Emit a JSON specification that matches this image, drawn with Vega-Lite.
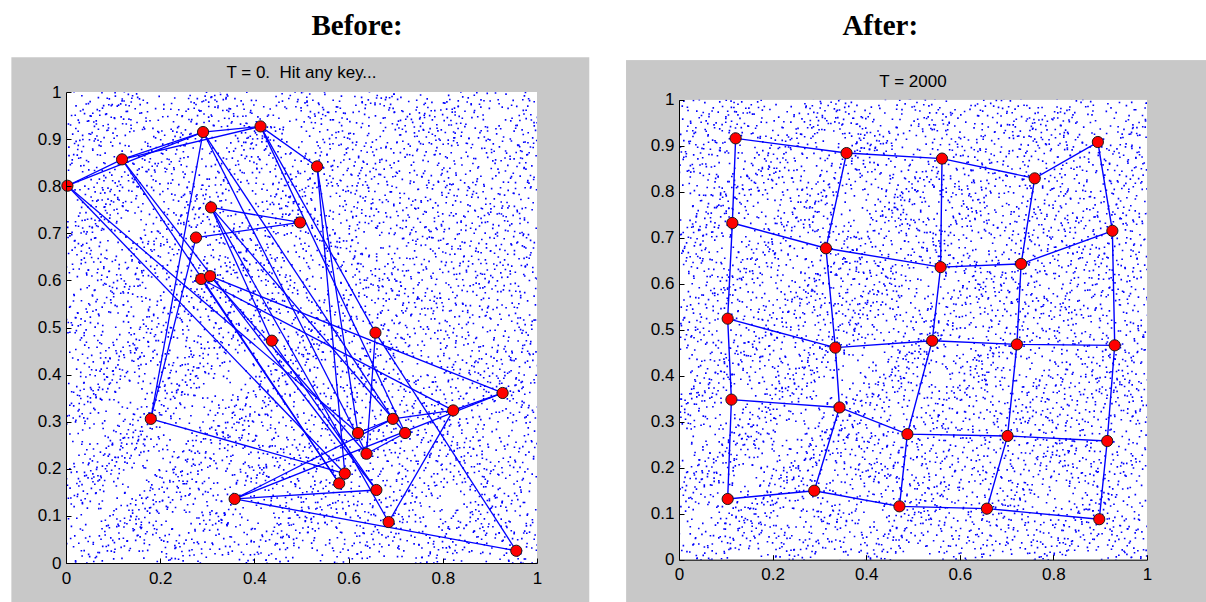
{
"$schema":"https://vega.github.io/schema/vega-lite/v6.json",
"background":"#ffffff",
"padding":{"left":11,"top":0,"right":0,"bottom":0},
"spacing":36,
"bounds":"full",
"datasets":{
"beforeNodes":[
{"id":"A","x":0.003,"y":0.801},{"id":"B","x":0.119,"y":0.857},{"id":"C","x":0.291,"y":0.915},{"id":"D","x":0.413,"y":0.927},{"id":"E","x":0.308,"y":0.755},
{"id":"F","x":0.497,"y":0.723},{"id":"G","x":0.276,"y":0.691},{"id":"H","x":0.287,"y":0.603},{"id":"I","x":0.306,"y":0.609},{"id":"J","x":0.533,"y":0.842},
{"id":"K","x":0.657,"y":0.489},{"id":"L","x":0.437,"y":0.472},{"id":"M","x":0.180,"y":0.306},{"id":"N","x":0.358,"y":0.136},{"id":"O","x":0.927,"y":0.361},
{"id":"P","x":0.822,"y":0.324},{"id":"Q","x":0.694,"y":0.306},{"id":"R","x":0.720,"y":0.276},{"id":"S","x":0.620,"y":0.276},{"id":"T","x":0.638,"y":0.232},
{"id":"U","x":0.592,"y":0.190},{"id":"V","x":0.580,"y":0.169},{"id":"W","x":0.659,"y":0.155},{"id":"X","x":0.685,"y":0.087},{"id":"Y","x":0.956,"y":0.026}],
"beforeEdges":[
{"a":"A","b":"B"},{"a":"A","b":"C"},{"a":"B","b":"C"},{"a":"B","b":"D"},{"a":"C","b":"D"},{"a":"D","b":"J"},{"a":"E","b":"F"},{"a":"G","b":"F"},
{"a":"C","b":"M"},{"a":"G","b":"M"},{"a":"A","b":"S"},{"a":"A","b":"U"},{"a":"B","b":"V"},{"a":"B","b":"W"},{"a":"C","b":"T"},{"a":"C","b":"Q"},
{"a":"D","b":"K"},{"a":"D","b":"R"},{"a":"J","b":"U"},{"a":"E","b":"R"},{"a":"E","b":"X"},{"a":"I","b":"O"},{"a":"H","b":"P"},{"a":"K","b":"Y"},
{"a":"K","b":"T"},{"a":"N","b":"W"},{"a":"N","b":"Q"},{"a":"N","b":"O"},{"a":"M","b":"U"},{"a":"P","b":"O"},{"a":"Q","b":"P"},{"a":"S","b":"Q"},
{"a":"X","b":"P"},{"a":"R","b":"T"},{"a":"L","b":"E"},{"a":"L","b":"W"},{"a":"U","b":"V"},{"a":"H","b":"V"},{"a":"I","b":"T"},{"a":"J","b":"S"},{"a":"N","b":"Y"}],
"afterNodes":[
{"r":0,"c":0,"x":0.121,"y":0.916},{"r":0,"c":1,"x":0.358,"y":0.884},{"r":0,"c":2,"x":0.562,"y":0.872},{"r":0,"c":3,"x":0.760,"y":0.829},{"r":0,"c":4,"x":0.895,"y":0.908},
{"r":1,"c":0,"x":0.114,"y":0.732},{"r":1,"c":1,"x":0.314,"y":0.677},{"r":1,"c":2,"x":0.559,"y":0.636},{"r":1,"c":3,"x":0.731,"y":0.643},{"r":1,"c":4,"x":0.926,"y":0.715},
{"r":2,"c":0,"x":0.104,"y":0.524},{"r":2,"c":1,"x":0.334,"y":0.461},{"r":2,"c":2,"x":0.541,"y":0.476},{"r":2,"c":3,"x":0.722,"y":0.468},{"r":2,"c":4,"x":0.931,"y":0.466},
{"r":3,"c":0,"x":0.112,"y":0.348},{"r":3,"c":1,"x":0.343,"y":0.331},{"r":3,"c":2,"x":0.488,"y":0.273},{"r":3,"c":3,"x":0.702,"y":0.269},{"r":3,"c":4,"x":0.915,"y":0.258},
{"r":4,"c":0,"x":0.104,"y":0.132},{"r":4,"c":1,"x":0.289,"y":0.150},{"r":4,"c":2,"x":0.471,"y":0.116},{"r":4,"c":3,"x":0.658,"y":0.111},{"r":4,"c":4,"x":0.898,"y":0.088}],
"dotsA":[
{"x":0.021,"y":0.012},{"x":0.082,"y":-0.018},{"x":0.204,"y":0.031},{"x":0.251,"y":0.002},{"x":0.388,"y":-0.022},{"x":0.437,"y":0.027},{"x":0.571,"y":0.009},{"x":0.619,"y":-0.031},{"x":0.744,"y":0.018},{"x":0.793,"y":-0.006},{"x":0.931,"y":0.024},{"x":0.978,"y":-0.014},
{"x":-0.012,"y":0.118},{"x":0.113,"y":0.071},{"x":0.168,"y":0.104},{"x":0.301,"y":0.129},{"x":0.349,"y":0.063},{"x":0.479,"y":0.088},{"x":0.531,"y":0.122},{"x":0.662,"y":0.078},{"x":0.707,"y":0.111},{"x":0.838,"y":0.066},{"x":0.889,"y":0.101},{"x":1.017,"y":0.084},
{"x":0.028,"y":0.171},{"x":0.078,"y":0.213},{"x":0.209,"y":0.158},{"x":0.259,"y":0.196},{"x":0.381,"y":0.221},{"x":0.431,"y":0.162},{"x":0.563,"y":0.204},{"x":0.611,"y":0.149},{"x":0.752,"y":0.188},{"x":0.799,"y":0.217},{"x":0.922,"y":0.166},{"x":0.981,"y":0.207},
{"x":-0.009,"y":0.298},{"x":0.121,"y":0.252},{"x":0.163,"y":0.287},{"x":0.297,"y":0.241},{"x":0.344,"y":0.306},{"x":0.472,"y":0.269},{"x":0.523,"y":0.244},{"x":0.656,"y":0.301},{"x":0.701,"y":0.262},{"x":0.841,"y":0.283},{"x":0.884,"y":0.238},{"x":1.012,"y":0.291},
{"x":0.017,"y":0.341},{"x":0.069,"y":0.387},{"x":0.199,"y":0.352},{"x":0.248,"y":0.396},{"x":0.392,"y":0.339},{"x":0.441,"y":0.378},{"x":0.568,"y":0.331},{"x":0.614,"y":0.399},{"x":0.748,"y":0.357},{"x":0.791,"y":0.344},{"x":0.926,"y":0.389},{"x":0.973,"y":0.348},
{"x":0.031,"y":0.481},{"x":0.111,"y":0.428},{"x":0.176,"y":0.467},{"x":0.292,"y":0.442},{"x":0.356,"y":0.491},{"x":0.483,"y":0.431},{"x":0.527,"y":0.472},{"x":0.651,"y":0.426},{"x":0.712,"y":0.486},{"x":0.833,"y":0.449},{"x":0.897,"y":0.421},{"x":1.008,"y":0.476},
{"x":-0.004,"y":0.529},{"x":0.087,"y":0.571},{"x":0.213,"y":0.518},{"x":0.262,"y":0.562},{"x":0.377,"y":0.536},{"x":0.429,"y":0.579},{"x":0.559,"y":0.513},{"x":0.627,"y":0.551},{"x":0.738,"y":0.581},{"x":0.806,"y":0.522},{"x":0.917,"y":0.566},{"x":0.985,"y":0.534},
{"x":0.024,"y":0.662},{"x":0.118,"y":0.611},{"x":0.171,"y":0.648},{"x":0.304,"y":0.603},{"x":0.339,"y":0.657},{"x":0.468,"y":0.619},{"x":0.534,"y":0.671},{"x":0.648,"y":0.628},{"x":0.703,"y":0.606},{"x":0.846,"y":0.659},{"x":0.881,"y":0.622},{"x":1.014,"y":0.651},
{"x":0.009,"y":0.702},{"x":0.073,"y":0.748},{"x":0.197,"y":0.711},{"x":0.283,"y":0.759},{"x":0.394,"y":0.693},{"x":0.446,"y":0.739},{"x":0.572,"y":0.708},{"x":0.619,"y":0.761},{"x":0.753,"y":0.731},{"x":0.802,"y":0.696},{"x":0.929,"y":0.744},{"x":0.969,"y":0.709},
{"x":0.036,"y":0.838},{"x":0.104,"y":0.789},{"x":0.182,"y":0.829},{"x":0.288,"y":0.801},{"x":0.361,"y":0.852},{"x":0.477,"y":0.786},{"x":0.519,"y":0.824},{"x":0.659,"y":0.843},{"x":0.719,"y":0.792},{"x":0.829,"y":0.831},{"x":0.892,"y":0.781},{"x":1.003,"y":0.842},
{"x":-0.011,"y":0.889},{"x":0.091,"y":0.931},{"x":0.206,"y":0.876},{"x":0.266,"y":0.919},{"x":0.383,"y":0.941},{"x":0.422,"y":0.884},{"x":0.556,"y":0.927},{"x":0.622,"y":0.871},{"x":0.741,"y":0.913},{"x":0.788,"y":0.938},{"x":0.934,"y":0.882},{"x":0.982,"y":0.921},
{"x":0.022,"y":0.978},{"x":0.115,"y":1.019},{"x":0.161,"y":0.963},{"x":0.299,"y":1.007},{"x":0.347,"y":0.972},{"x":0.469,"y":1.024},{"x":0.538,"y":0.981},{"x":0.652,"y":1.011},{"x":0.716,"y":0.966},{"x":0.843,"y":0.997},{"x":0.877,"y":1.021},{"x":1.011,"y":0.974}],
"dotsB":[
{"x":0.062,"y":0.038},{"x":0.127,"y":0.071},{"x":0.246,"y":0.029},{"x":0.309,"y":0.064},{"x":0.428,"y":0.041},{"x":0.487,"y":0.077},{"x":0.603,"y":0.022},{"x":0.668,"y":0.059},{"x":0.784,"y":0.035},{"x":0.849,"y":0.068},{"x":0.963,"y":0.044},
{"x":0.038,"y":0.161},{"x":0.152,"y":0.118},{"x":0.219,"y":0.153},{"x":0.334,"y":0.126},{"x":0.397,"y":0.167},{"x":0.514,"y":0.131},{"x":0.578,"y":0.109},{"x":0.693,"y":0.157},{"x":0.756,"y":0.122},{"x":0.873,"y":0.148},{"x":0.938,"y":0.113},
{"x":0.071,"y":0.209},{"x":0.133,"y":0.247},{"x":0.241,"y":0.218},{"x":0.311,"y":0.256},{"x":0.423,"y":0.227},{"x":0.489,"y":0.203},{"x":0.607,"y":0.241},{"x":0.666,"y":0.219},{"x":0.789,"y":0.252},{"x":0.851,"y":0.207},{"x":0.967,"y":0.238},
{"x":0.043,"y":0.331},{"x":0.157,"y":0.297},{"x":0.226,"y":0.342},{"x":0.337,"y":0.311},{"x":0.402,"y":0.294},{"x":0.519,"y":0.338},{"x":0.583,"y":0.306},{"x":0.697,"y":0.347},{"x":0.762,"y":0.301},{"x":0.878,"y":0.329},{"x":0.941,"y":0.343},
{"x":0.066,"y":0.392},{"x":0.128,"y":0.431},{"x":0.238,"y":0.401},{"x":0.306,"y":0.437},{"x":0.426,"y":0.388},{"x":0.492,"y":0.423},{"x":0.611,"y":0.397},{"x":0.672,"y":0.436},{"x":0.781,"y":0.419},{"x":0.847,"y":0.384},{"x":0.959,"y":0.428},
{"x":0.036,"y":0.513},{"x":0.149,"y":0.481},{"x":0.221,"y":0.524},{"x":0.329,"y":0.492},{"x":0.414,"y":0.518},{"x":0.507,"y":0.477},{"x":0.576,"y":0.527},{"x":0.688,"y":0.489},{"x":0.767,"y":0.521},{"x":0.869,"y":0.503},{"x":0.944,"y":0.474},
{"x":0.059,"y":0.604},{"x":0.136,"y":0.568},{"x":0.249,"y":0.611},{"x":0.313,"y":0.577},{"x":0.399,"y":0.602},{"x":0.496,"y":0.566},{"x":0.598,"y":0.614},{"x":0.677,"y":0.581},{"x":0.791,"y":0.597},{"x":0.856,"y":0.571},{"x":0.958,"y":0.612},
{"x":0.047,"y":0.693},{"x":0.154,"y":0.661},{"x":0.229,"y":0.701},{"x":0.341,"y":0.672},{"x":0.418,"y":0.657},{"x":0.513,"y":0.697},{"x":0.587,"y":0.664},{"x":0.701,"y":0.692},{"x":0.758,"y":0.669},{"x":0.874,"y":0.703},{"x":0.936,"y":0.658},
{"x":0.068,"y":0.751},{"x":0.124,"y":0.792},{"x":0.243,"y":0.763},{"x":0.318,"y":0.749},{"x":0.431,"y":0.786},{"x":0.487,"y":0.758},{"x":0.609,"y":0.781},{"x":0.663,"y":0.746},{"x":0.782,"y":0.789},{"x":0.842,"y":0.761},{"x":0.966,"y":0.777},
{"x":0.041,"y":0.879},{"x":0.146,"y":0.843},{"x":0.217,"y":0.871},{"x":0.332,"y":0.838},{"x":0.408,"y":0.882},{"x":0.521,"y":0.851},{"x":0.581,"y":0.836},{"x":0.694,"y":0.874},{"x":0.773,"y":0.847},{"x":0.867,"y":0.883},{"x":0.947,"y":0.852},
{"x":0.063,"y":0.931},{"x":0.131,"y":0.967},{"x":0.251,"y":0.944},{"x":0.307,"y":0.973},{"x":0.419,"y":0.929},{"x":0.503,"y":0.961},{"x":0.601,"y":0.937},{"x":0.671,"y":0.969},{"x":0.787,"y":0.942},{"x":0.853,"y":0.926},{"x":0.961,"y":0.964}]
},
"hconcat":[
{
"width":471,"height":471,
"layer":[
{"data":{"values":[{}]},"mark":{"type":"rect","color":"#ffffff"},"encoding":{"x":{"datum":-0.116,"type":"quantitative","scale":{"domain":[0,1],"nice":false},"title":null},"x2":{"datum":1.111},"y":{"datum":1.074,"type":"quantitative","scale":{"domain":[0,1],"nice":false},"title":null},"y2":{"datum":1.195}}},
{"data":{"values":[{}]},"mark":{"type":"rect","color":"#c8c8c8"},"encoding":{"x":{"datum":-0.116,"type":"quantitative","scale":{"domain":[0,1],"nice":false},"title":null},"x2":{"datum":1.111},"y":{"datum":-0.085,"type":"quantitative","scale":{"domain":[0,1],"nice":false},"title":null},"y2":{"datum":1.074}}},
{"data":{"values":[{}]},"mark":{"type":"rect","color":"#ffffff"},"encoding":{"x":{"datum":0,"type":"quantitative","scale":{"domain":[0,1],"nice":false},"title":null},"x2":{"datum":1},"y":{"datum":0,"type":"quantitative","scale":{"domain":[0,1],"nice":false},"title":null},"y2":{"datum":1}}},
{"data":{"name":"dotsA"},"mark":{"type":"point","shape":"M-0.83,-0.41h0.072v0.072h-0.072zM-0.52,0.67h0.072v0.072h-0.072zM-0.27,-0.88h0.072v0.072h-0.072zM-0.05,0.12h0.072v0.072h-0.072zM0.21,-0.33h0.072v0.072h-0.072zM0.46,0.81h0.072v0.072h-0.072zM0.74,-0.62h0.072v0.072h-0.072zM0.9,0.29h0.072v0.072h-0.072zM-0.68,0.05h0.072v0.072h-0.072zM0.33,0.47h0.072v0.072h-0.072zM-0.14,-0.51h0.072v0.072h-0.072zM0.58,-0.07h0.072v0.072h-0.072zM-0.39,0.93h0.072v0.072h-0.072zM0.05,0.76h0.072v0.072h-0.072zM-0.95,-0.97h0.072v0.072h-0.072zM0.86,0.93h0.072v0.072h-0.072zM-0.6,-0.2h0.072v0.072h-0.072zM0.15,0.35h0.072v0.072h-0.072zM0.4,-0.9h0.072v0.072h-0.072zM-0.85,0.4h0.072v0.072h-0.072zM0.7,0.45h0.072v0.072h-0.072zM-0.25,0.55h0.072v0.072h-0.072zM0.95,-0.25h0.072v0.072h-0.072zM-0.45,-0.65h0.072v0.072h-0.072z","filled":true,"color":"#0000ff","size":2000,"strokeWidth":0,"opacity":1,"clip":true},"encoding":{"x":{"field":"x","type":"quantitative","scale":{"domain":[0,1],"nice":false},"title":null},"y":{"field":"y","type":"quantitative","scale":{"domain":[0,1],"nice":false},"title":null}}},
{"data":{"name":"dotsB"},"mark":{"type":"point","shape":"M-0.91,0.72h0.072v0.072h-0.072zM-0.6,-0.7h0.072v0.072h-0.072zM-0.33,0.38h0.072v0.072h-0.072zM-0.12,-0.15h0.072v0.072h-0.072zM0.12,0.9h0.072v0.072h-0.072zM0.27,-0.77h0.072v0.072h-0.072zM0.51,0.22h0.072v0.072h-0.072zM0.79,0.58h0.072v0.072h-0.072zM0.66,-0.36h0.072v0.072h-0.072zM-0.77,-0.12h0.072v0.072h-0.072zM0.02,0.48h0.072v0.072h-0.072zM0.41,-0.49h0.072v0.072h-0.072zM-0.46,-0.95h0.072v0.072h-0.072zM0.93,-0.86h0.072v0.072h-0.072zM0.3,0.02h0.072v0.072h-0.072zM-0.28,-0.42h0.072v0.072h-0.072zM-0.1,0.7h0.072v0.072h-0.072zM0.55,-0.92h0.072v0.072h-0.072zM-0.95,-0.45h0.072v0.072h-0.072zM0.72,0.92h0.072v0.072h-0.072zM-0.62,0.45h0.072v0.072h-0.072zM0.15,-0.45h0.072v0.072h-0.072zM0.85,0.15h0.072v0.072h-0.072zM-0.35,-0.2h0.072v0.072h-0.072z","filled":true,"color":"#0000ff","size":2000,"strokeWidth":0,"opacity":1,"clip":true},"encoding":{"x":{"field":"x","type":"quantitative","scale":{"domain":[0,1],"nice":false},"title":null},"y":{"field":"y","type":"quantitative","scale":{"domain":[0,1],"nice":false},"title":null}}},
{"data":{"name":"beforeEdges"},"transform":[{"lookup":"a","from":{"data":{"name":"beforeNodes"},"key":"id","fields":["x","y"]},"as":["xa","ya"]},{"lookup":"b","from":{"data":{"name":"beforeNodes"},"key":"id","fields":["x","y"]},"as":["xb","yb"]}],"mark":{"type":"rule","color":"#0000ff","strokeWidth":1.3},"encoding":{"x":{"field":"xa","type":"quantitative","scale":{"domain":[0,1],"nice":false},"title":null},"y":{"field":"ya","type":"quantitative","scale":{"domain":[0,1],"nice":false},"title":null},"x2":{"field":"xb"},"y2":{"field":"yb"}}},
{"data":{"name":"beforeNodes"},"mark":{"type":"point","filled":true,"fill":"#ff0000","stroke":"#1a1a1a","strokeWidth":1,"size":125,"opacity":1},"encoding":{"x":{"field":"x","type":"quantitative","scale":{"domain":[0,1],"nice":false},"title":null,"axis":{"values":[0,0.2,0.4,0.6,0.8,1],"format":"~g","title":null,"zindex":1,"tickSize":-5,"labelPadding":12}},"y":{"field":"y","type":"quantitative","scale":{"domain":[0,1],"nice":false},"title":null,"axis":{"values":[0,0.1,0.2,0.3,0.4,0.5,0.6,0.7,0.8,0.9,1],"format":"~g","title":null,"zindex":1,"tickSize":-5,"labelPadding":10}}}},
{"data":{"values":[{}]},"mark":{"type":"text","text":"T = 0.\u00a0 Hit any key...","font":"Liberation Sans","fontSize":17,"color":"#000000","align":"center","baseline":"alphabetic"},"encoding":{"x":{"datum":0.5,"type":"quantitative","scale":{"domain":[0,1],"nice":false},"title":null},"y":{"datum":1.029,"type":"quantitative","scale":{"domain":[0,1],"nice":false},"title":null}}},
{"data":{"values":[{}]},"mark":{"type":"text","text":"Before:","font":"Liberation Serif","fontWeight":"bold","fontSize":29,"color":"#000000","align":"center","baseline":"alphabetic"},"encoding":{"x":{"datum":0.618,"type":"quantitative","scale":{"domain":[0,1],"nice":false},"title":null},"y":{"datum":1.122,"type":"quantitative","scale":{"domain":[0,1],"nice":false},"title":null}}}
]
},
{
"width":468,"height":467.7,
"layer":[
{"data":{"values":[{}]},"mark":{"type":"rect","color":"#ffffff"},"encoding":{"x":{"datum":-0.113,"type":"quantitative","scale":{"domain":[0,1],"nice":false},"title":null},"x2":{"datum":1.129},"y":{"datum":1.086,"type":"quantitative","scale":{"domain":[0,1],"nice":false,"range":[467.7,7.7]},"title":null},"y2":{"datum":1.216}}},
{"data":{"values":[{}]},"mark":{"type":"rect","color":"#c8c8c8"},"encoding":{"x":{"datum":-0.113,"type":"quantitative","scale":{"domain":[0,1],"nice":false},"title":null},"x2":{"datum":1.129},"y":{"datum":-0.093,"type":"quantitative","scale":{"domain":[0,1],"nice":false,"range":[467.7,7.7]},"title":null},"y2":{"datum":1.086}}},
{"data":{"values":[{}]},"mark":{"type":"rect","color":"#ffffff"},"encoding":{"x":{"datum":0,"type":"quantitative","scale":{"domain":[0,1],"nice":false},"title":null},"x2":{"datum":1},"y":{"datum":0,"type":"quantitative","scale":{"domain":[0,1],"nice":false,"range":[467.7,7.7]},"title":null},"y2":{"datum":1}}},
{"data":{"name":"dotsB"},"mark":{"type":"point","shape":"M-0.83,-0.41h0.072v0.072h-0.072zM-0.52,0.67h0.072v0.072h-0.072zM-0.27,-0.88h0.072v0.072h-0.072zM-0.05,0.12h0.072v0.072h-0.072zM0.21,-0.33h0.072v0.072h-0.072zM0.46,0.81h0.072v0.072h-0.072zM0.74,-0.62h0.072v0.072h-0.072zM0.9,0.29h0.072v0.072h-0.072zM-0.68,0.05h0.072v0.072h-0.072zM0.33,0.47h0.072v0.072h-0.072zM-0.14,-0.51h0.072v0.072h-0.072zM0.58,-0.07h0.072v0.072h-0.072zM-0.39,0.93h0.072v0.072h-0.072zM0.05,0.76h0.072v0.072h-0.072zM-0.95,-0.97h0.072v0.072h-0.072zM0.86,0.93h0.072v0.072h-0.072zM-0.6,-0.2h0.072v0.072h-0.072zM0.15,0.35h0.072v0.072h-0.072zM0.4,-0.9h0.072v0.072h-0.072zM-0.85,0.4h0.072v0.072h-0.072zM0.7,0.45h0.072v0.072h-0.072zM-0.25,0.55h0.072v0.072h-0.072zM0.95,-0.25h0.072v0.072h-0.072zM-0.45,-0.65h0.072v0.072h-0.072z","filled":true,"color":"#0000ff","size":2000,"strokeWidth":0,"opacity":1,"clip":true},"encoding":{"x":{"field":"x","type":"quantitative","scale":{"domain":[0,1],"nice":false},"title":null},"y":{"field":"y","type":"quantitative","scale":{"domain":[0,1],"nice":false,"range":[467.7,7.7]},"title":null}}},
{"data":{"name":"dotsA"},"mark":{"type":"point","shape":"M-0.91,0.72h0.072v0.072h-0.072zM-0.6,-0.7h0.072v0.072h-0.072zM-0.33,0.38h0.072v0.072h-0.072zM-0.12,-0.15h0.072v0.072h-0.072zM0.12,0.9h0.072v0.072h-0.072zM0.27,-0.77h0.072v0.072h-0.072zM0.51,0.22h0.072v0.072h-0.072zM0.79,0.58h0.072v0.072h-0.072zM0.66,-0.36h0.072v0.072h-0.072zM-0.77,-0.12h0.072v0.072h-0.072zM0.02,0.48h0.072v0.072h-0.072zM0.41,-0.49h0.072v0.072h-0.072zM-0.46,-0.95h0.072v0.072h-0.072zM0.93,-0.86h0.072v0.072h-0.072zM0.3,0.02h0.072v0.072h-0.072zM-0.28,-0.42h0.072v0.072h-0.072zM-0.1,0.7h0.072v0.072h-0.072zM0.55,-0.92h0.072v0.072h-0.072zM-0.95,-0.45h0.072v0.072h-0.072zM0.72,0.92h0.072v0.072h-0.072zM-0.62,0.45h0.072v0.072h-0.072zM0.15,-0.45h0.072v0.072h-0.072zM0.85,0.15h0.072v0.072h-0.072zM-0.35,-0.2h0.072v0.072h-0.072z","filled":true,"color":"#0000ff","size":2000,"strokeWidth":0,"opacity":1,"clip":true},"encoding":{"x":{"field":"x","type":"quantitative","scale":{"domain":[0,1],"nice":false},"title":null},"y":{"field":"y","type":"quantitative","scale":{"domain":[0,1],"nice":false,"range":[467.7,7.7]},"title":null}}},
{"data":{"values":[{}]},"mark":{"type":"rect","color":"#c8c8c8"},"encoding":{"x":{"datum":-0.113,"type":"quantitative","scale":{"domain":[0,1],"nice":false},"title":null},"x2":{"datum":1.129},"y":{"datum":1,"type":"quantitative","scale":{"domain":[0,1],"nice":false,"range":[467.7,7.7]},"title":null},"y2":{"datum":1.086}}},
{"data":{"name":"afterNodes"},"mark":{"type":"line","color":"#0000ff","strokeWidth":1.4},"encoding":{"x":{"field":"x","type":"quantitative","scale":{"domain":[0,1],"nice":false},"title":null},"y":{"field":"y","type":"quantitative","scale":{"domain":[0,1],"nice":false,"range":[467.7,7.7]},"title":null},"detail":{"field":"r","type":"nominal"},"order":{"field":"c","type":"quantitative"}}},
{"data":{"name":"afterNodes"},"mark":{"type":"line","color":"#0000ff","strokeWidth":1.4},"encoding":{"x":{"field":"x","type":"quantitative","scale":{"domain":[0,1],"nice":false},"title":null},"y":{"field":"y","type":"quantitative","scale":{"domain":[0,1],"nice":false,"range":[467.7,7.7]},"title":null},"detail":{"field":"c","type":"nominal"},"order":{"field":"r","type":"quantitative"}}},
{"data":{"name":"afterNodes"},"mark":{"type":"point","filled":true,"fill":"#ff0000","stroke":"#1a1a1a","strokeWidth":1,"size":125,"opacity":1},"encoding":{"x":{"field":"x","type":"quantitative","scale":{"domain":[0,1],"nice":false},"title":null,"axis":{"values":[0,0.2,0.4,0.6,0.8,1],"format":"~g","title":null,"zindex":1,"tickSize":-5,"labelPadding":12}},"y":{"field":"y","type":"quantitative","scale":{"domain":[0,1],"nice":false,"range":[467.7,7.7]},"title":null,"axis":{"values":[0,0.1,0.2,0.3,0.4,0.5,0.6,0.7,0.8,0.9,1],"format":"~g","title":null,"zindex":1,"tickSize":-5,"labelPadding":10}}}},
{"data":{"values":[{}]},"mark":{"type":"text","text":"T = 2000","font":"Liberation Sans","fontSize":17,"color":"#000000","align":"center","baseline":"alphabetic"},"encoding":{"x":{"datum":0.5,"type":"quantitative","scale":{"domain":[0,1],"nice":false},"title":null},"y":{"datum":1.027,"type":"quantitative","scale":{"domain":[0,1],"nice":false,"range":[467.7,7.7]},"title":null}}},
{"data":{"values":[{}]},"mark":{"type":"text","text":"After:","font":"Liberation Serif","fontWeight":"bold","fontSize":29,"color":"#000000","align":"center","baseline":"alphabetic"},"encoding":{"x":{"datum":0.43,"type":"quantitative","scale":{"domain":[0,1],"nice":false},"title":null},"y":{"datum":1.140,"type":"quantitative","scale":{"domain":[0,1],"nice":false,"range":[467.7,7.7]},"title":null}}}
]
}
],
"config":{
"view":{"stroke":null},
"axis":{"domainColor":"#000000","domainWidth":1,"tickColor":"#000000","tickWidth":1,"labelColor":"#000000","labelFont":"Liberation Sans","labelFontSize":17,"grid":false,"labelFlush":false,"labelOverlap":false}
}
}
